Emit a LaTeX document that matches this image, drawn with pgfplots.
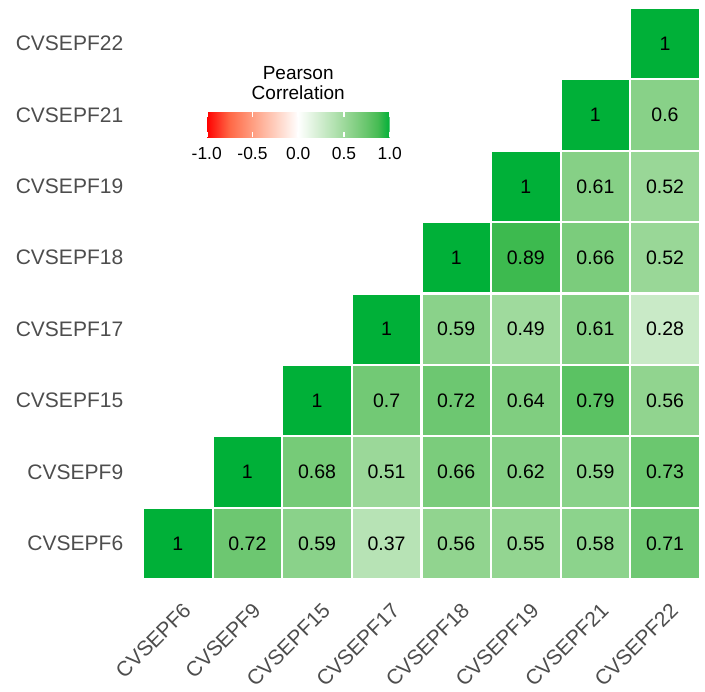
\documentclass[border=0pt]{standalone}
\usepackage{pgfplots}
\pgfplotsset{compat=1.18}
\usepackage{pgfplotstable}
\usepackage{fontspec}
\setmainfont{Liberation Sans}
\definecolor{axtext}{HTML}{4D4D4D}
\newlength\cellhw \setlength\cellhw{17.4pt}
\newlength\cellhh \setlength\cellhh{17.85pt}
\pgfdeclareplotmark{cell}{%
  \pgfpathrectangle{\pgfpoint{-\cellhw}{-\cellhh}}{\pgfpoint{2\cellhw}{2\cellhh}}%
  \pgfusepathqfillstroke}
\pgfplotstableread{
x y c
0 0 1
1 0 0.72
2 0 0.59
3 0 0.37
4 0 0.56
5 0 0.55
6 0 0.58
7 0 0.71
1 1 1
2 1 0.68
3 1 0.51
4 1 0.66
5 1 0.62
6 1 0.59
7 1 0.73
2 2 1
3 2 0.7
4 2 0.72
5 2 0.64
6 2 0.79
7 2 0.56
3 3 1
4 3 0.59
5 3 0.49
6 3 0.61
7 3 0.28
4 4 1
5 4 0.89
6 4 0.66
7 4 0.52
5 5 1
6 5 0.61
7 5 0.52
6 6 1
7 6 0.6
7 7 1
}\corrdata
\begin{document}
\begin{tikzpicture}
\useasboundingbox (-71.5pt,-56pt) rectangle (281pt,289.5pt);
\begin{axis}[
  at={(0,0)}, anchor=south west,
  x=34.8pt, y=35.7pt,
  xmin=-0.5, xmax=7.5, ymin=-0.5, ymax=7.5,
  axis line style={draw=none},
  tick style={draw=none},
  clip=false,
  xtick={0,...,7}, ytick={0,...,7},
  xticklabels={CVSEPF6,CVSEPF9,CVSEPF15,CVSEPF17,CVSEPF18,CVSEPF19,CVSEPF21,CVSEPF22},
  yticklabels={CVSEPF6,CVSEPF9,CVSEPF15,CVSEPF17,CVSEPF18,CVSEPF19,CVSEPF21,CVSEPF22},
  xticklabel style={font=\fontsize{10.5}{12}\selectfont, text=axtext, inner sep=0pt,
    xshift=2pt, yshift=-11pt, rotate=45, anchor=north east},
  yticklabel style={font=\fontsize{10.5}{12}\selectfont, text=axtext, inner sep=0pt,
    anchor=east, xshift=-9.7pt},
  colormap={corr}{rgb255(0)=(255,0,0) rgb255(2)=(255,104,70) rgb255(4)=(255,158,129)
    rgb255(6)=(255,207,191) rgb255(8)=(255,255,255) rgb255(9)=(231,246,230)
    rgb255(10)=(207,236,205) rgb255(11)=(182,227,180) rgb255(12)=(157,217,155)
    rgb255(13)=(131,207,131) rgb255(14)=(102,197,107) rgb255(15)=(69,187,82)
    rgb255(16)=(0,176,56)},
  point meta min=-1, point meta max=1,
  /pgf/number format/assume math mode=true,
  colorbar horizontal,
  colorbar style={
    at={(0.1144,0.7733)},
    anchor=south west,
    scale only axis,
    width=91.5pt, height=12.5pt,
    axis line style={draw=none},
    xtick={-1,-0.5,0,0.5,1},
    xticklabels={-1.0,-0.5,0.0,0.5,1.0},
    xticklabel style={font=\fontsize{8.7}{10}\selectfont, text=black, inner sep=0pt,
      yshift=-5pt, anchor=north, rotate=0},
    xtick pos=both,
    tick align=inside,
    major tick length=2.5pt,
    xtick style={draw=white, line width=0.8pt},
    title={Pearson\\Correlation},
    title style={align=center, font=\fontsize{9.5}{10}\selectfont, inner sep=0pt,
      anchor=south, yshift=0pt},
  },
]
\addplot[scatter, only marks, mark=cell, scatter src=explicit,
  scatter/use mapped color={draw=white, fill=mapped color},
  mark options={line width=1.1pt},
  nodes near coords*,
  nodes near coords align={center},
  every node near coord/.append style={font=\fontsize{9.75}{11}\selectfont, text=black, anchor=center}]
  table[x=x, y=y, meta=c] {\corrdata};
\end{axis}
\end{tikzpicture}
\end{document}
